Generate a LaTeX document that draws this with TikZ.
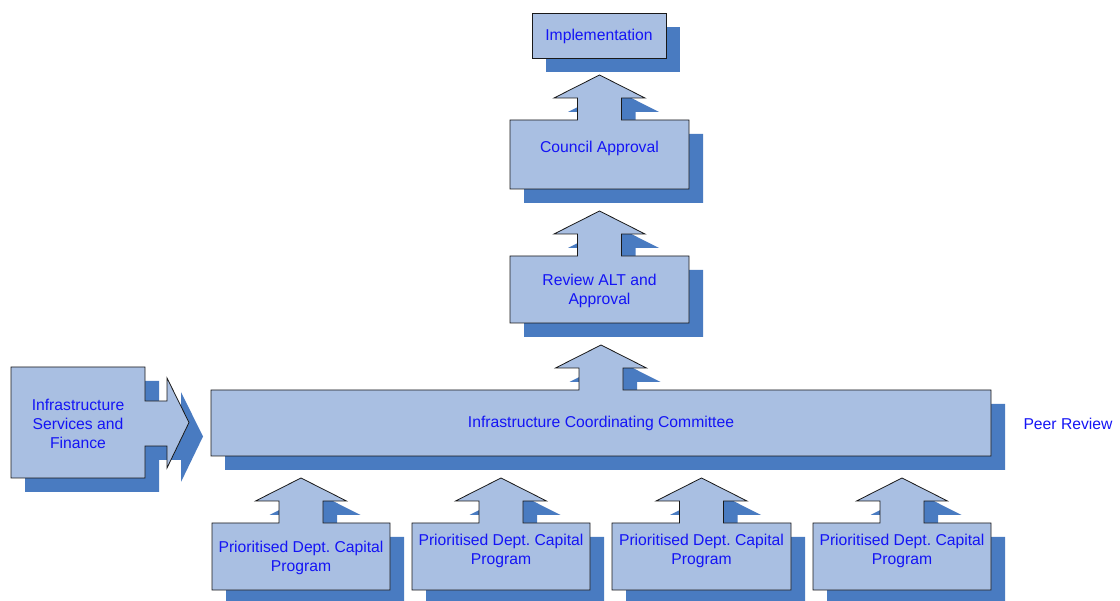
\documentclass[tikz,border=0pt]{standalone}
\usepackage{fontspec}
\setmainfont{Liberation Sans}
\frenchspacing
\definecolor{boxfill}{RGB}{169,191,226}
\definecolor{shadowc}{RGB}{73,123,193}
\definecolor{txtc}{RGB}{20,20,245}
\tikzset{
  boxshape/.style={draw=black!90, line width=0.8pt, fill=boxfill, line join=miter},
  boxshade/.style={fill=shadowc, shift={(14,14)}},
  lbl/.style={text=txtc, font=\fontsize{15.7}{19}\selectfont, align=center, inner sep=0pt},
}
% up-arrow callout: #1 left, #2 top, #3 right, #4 bottom
\newcommand\UpCallout[4]{%
  \foreach \sty in {boxshade,boxshape}{%
    \path[\sty] (#1,#4) -- (#1,#2) -- ({(#1+#3)/2-22},#2) -- ({(#1+#3)/2-22},#2-22)
      -- ({(#1+#3)/2-45.5},#2-22) -- ({(#1+#3)/2},#2-45) -- ({(#1+#3)/2+45.5},#2-22)
      -- ({(#1+#3)/2+22},#2-22) -- ({(#1+#3)/2+22},#2) -- (#3,#2) -- (#3,#4) -- cycle;
  }%
}
\begin{document}
\begin{tikzpicture}[x=1pt,y=-1pt]
\useasboundingbox (0,0) rectangle (1120,601);
% Implementation
\path[boxshade] (532,13) rectangle (666,58);
\path[boxshape] (532,13) rectangle (666,58);
\node[lbl] (impl) at (599,36.5) {Implementation};
% Council Approval
\UpCallout{510}{120}{689}{189}
\node[lbl] (council) at (599.5,148.5) {Council Approval};
% Review ALT and Approval
\UpCallout{510}{256}{689}{323}
\node[lbl] (review) at (599.5,290.5) {Review ALT and\\Approval};
% Infrastructure Services and Finance (right arrow callout)
\foreach \sty in {boxshade,boxshape}{%
  \path[\sty] (11,367) -- (145,367) -- (145,401) -- (167,401) -- (167,378) -- (189,422.5)
    -- (167,468) -- (167,446) -- (145,446) -- (145,478) -- (11,478) -- cycle;
}
\node[lbl] (isf) at (78,424) {Infrastructure\\Services and\\Finance};
% Infrastructure Coordinating Committee
\UpCallout{211}{390}{991}{456}
\node[lbl] (icc) at (601,423.5) {Infrastructure Coordinating Committee};
\node[lbl] (peer) at (1068,423.5) {Peer Review};
% Prioritised programs
\UpCallout{212}{523}{390}{590}
\UpCallout{412}{523}{590}{590}
\UpCallout{612}{523}{791}{590}
\UpCallout{813}{523}{991}{590}
\node[lbl] (p1) at (301,558) {Prioritised Dept. Capital\\Program};
\node[lbl] (p2) at (501,550.5) {Prioritised Dept. Capital\\Program};
\node[lbl] (p3) at (701.5,550.5) {Prioritised Dept. Capital\\Program};
\node[lbl] (p4) at (902,550.5) {Prioritised Dept. Capital\\Program};
\end{tikzpicture}
\end{document}
